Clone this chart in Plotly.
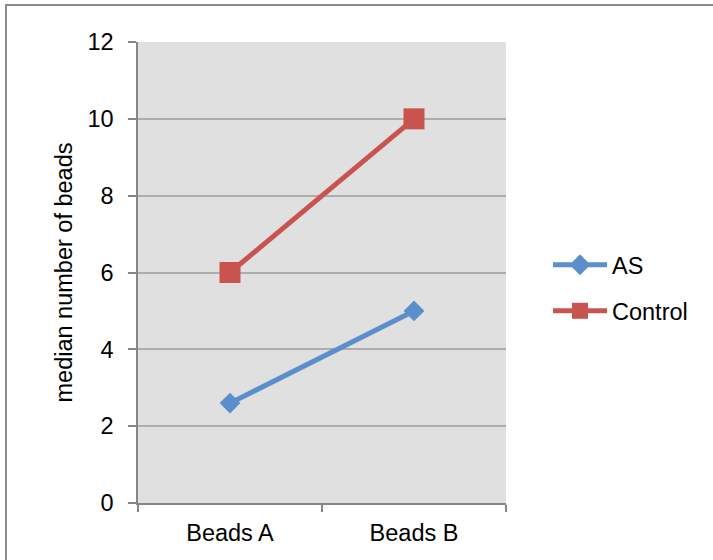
import plotly.graph_objects as go

categories = ["Beads A", "Beads B"]
as_values = [2.6, 5]
control_values = [6, 10]
y_ticks = [0, 2, 4, 6, 8, 10, 12]

FONT = "Liberation Sans, Arial, sans-serif"
FS = 23.5
L, R, T, B = 138, 207, 42, 57
W, H = 713, 560
pw, ph = W - L - R, H - T - B

def px2x(px):
    return (px - L) / pw

def py2y(py):
    return (H - B - py) / ph

BLUE = "#5A8FCB"
RED = "#C9544F"

fig = go.Figure()
fig.add_trace(go.Scatter(
    x=categories, y=as_values, name="AS", mode="lines+markers",
    line=dict(color=BLUE, width=5),
    marker=dict(symbol="diamond", size=16, color=BLUE),
    legend="legend",
))
fig.add_trace(go.Scatter(
    x=categories, y=control_values, name="Control", mode="lines+markers",
    line=dict(color=RED, width=5),
    marker=dict(symbol="square", size=21, color=RED),
    legend="legend2",
))

leg_common = dict(xanchor="left", yanchor="middle",
                  font=dict(size=FS, family=FONT), bgcolor="rgba(0,0,0,0)",
                  itemwidth=54)

fig.update_layout(
    width=W, height=H,
    margin=dict(l=L, r=R, t=T, b=B),
    paper_bgcolor="white",
    plot_bgcolor="#E0E0E0",
    font=dict(family=FONT, color="black"),
    showlegend=True,
    legend=dict(x=px2x(548), y=py2y(265), **leg_common),
    legend2=dict(x=px2x(548), y=py2y(311), **leg_common),
    xaxis=dict(
        type="category", range=[-0.5, 1.5], tickson="boundaries",
        showline=True, linecolor="#868686", linewidth=1.5,
        ticks="outside", ticklen=7, tickcolor="#868686", tickwidth=1.5,
        showgrid=False, tickfont=dict(size=FS, family=FONT),
        ticklabelstandoff=8,
    ),
    yaxis=dict(
        range=[0, 12], tickvals=y_ticks,
        showline=True, linecolor="#868686", linewidth=1.5,
        ticks="outside", ticklen=8, tickcolor="#868686", tickwidth=1.5,
        gridcolor="#ADADAD", gridwidth=1.5, zeroline=False,
        tickfont=dict(size=FS, family=FONT), ticklabelstandoff=10,
        title=dict(text="median number of beads", font=dict(size=FS, family=FONT), standoff=8),
    ),
)

fig.add_shape(type="rect", xref="paper", yref="paper",
              x0=px2x(6), x1=px2x(730), y0=py2y(575), y1=py2y(5),
              line=dict(color="#8C8C8C", width=2), fillcolor="rgba(0,0,0,0)", layer="below")

fig.write_html("out.html")
